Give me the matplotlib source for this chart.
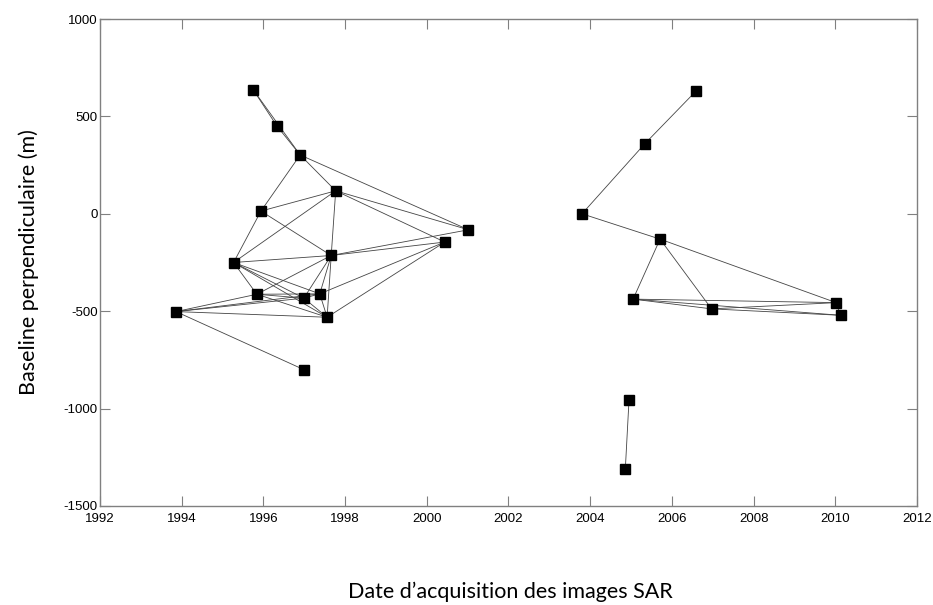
import numpy as np
import matplotlib.pyplot as plt

plt.rcParams['axes.unicode_minus'] = False

# acquisition dates (decimal years) and perpendicular baselines (m)
dates = [1995.75, 1996.33, 1996.90, 1997.77, 1995.94, 2001.02, 2000.44, 1997.66,
         1995.27, 1995.84, 1996.99, 1997.38, 1993.86, 1997.56, 1996.99,
         2006.58, 2005.33, 2003.80, 2005.71, 2005.05, 2006.97, 2010.02, 2010.13,
         2004.95, 2004.86]
baselines = [637, 451, 302, 118, 14, -82, -145, -214,
             -250, -413, -433, -411, -502, -531, -800,
             628, 358, 0, -130, -438, -488, -456, -521,
             -957, -1309]

# interferometric pairs (indices into dates / baselines)
pairs = [(0, 1), (1, 2), (0, 2),
         (2, 4), (2, 3), (2, 5),
         (3, 4), (3, 8), (3, 7), (3, 5), (3, 6),
         (4, 8), (4, 7),
         (7, 8), (7, 5), (7, 6), (7, 13), (7, 11), (7, 10), (7, 9),
         (8, 9), (8, 10), (8, 11), (8, 13),
         (9, 12), (9, 10), (9, 11), (9, 13),
         (12, 10), (12, 11), (12, 13), (12, 14),
         (10, 13), (10, 11), (11, 13), (11, 6), (13, 6),
         (15, 16), (16, 17), (17, 18), (18, 21),
         (18, 19), (18, 20),
         (19, 21), (19, 20), (19, 22), (20, 21), (20, 22), (21, 22),
         (23, 24)]

xticks = np.arange(1992, 2013, 2)
yticks = np.arange(-1500, 1001, 500)

fig = plt.figure(figsize=(9.33, 6.05), dpi=100)
ax = fig.add_axes([100/933, 99/605, 817/933, 487/605])

d = np.array(dates)
b = np.array(baselines)
for i, j in pairs:
    ax.plot([d[i], d[j]], [b[i], b[j]], color='#444444', linewidth=0.6, zorder=1)
ax.plot(d, b, 's', color='black', markersize=7, zorder=2)

ax.set_xlim(1992, 2012)
ax.set_ylim(-1500, 1000)
ax.set_xticks(xticks)
ax.set_yticks(yticks)
ax.tick_params(direction='in', length=7, width=0.8, color='#808080',
               top=True, right=True, labelsize=9.5)
ax.tick_params(axis='x', pad=5)
ax.tick_params(axis='y', pad=1.5)
for lab in ax.get_xticklabels() + ax.get_yticklabels():
    lab.set_family('Liberation Sans')
for s in ax.spines.values():
    s.set_color('#808080')
    s.set_linewidth(1.0)

ax.set_xlabel("Date d\u2019acquisition des images SAR", family='Lato', fontsize=15.5)
ax.set_ylabel('Baseline perpendiculaire (m)', family='Lato', fontsize=15.5)
ax.xaxis.set_label_coords(0.502, -0.155)
ax.yaxis.set_label_coords(-0.075, 0.5)

fig.savefig('out.png', dpi=100)
